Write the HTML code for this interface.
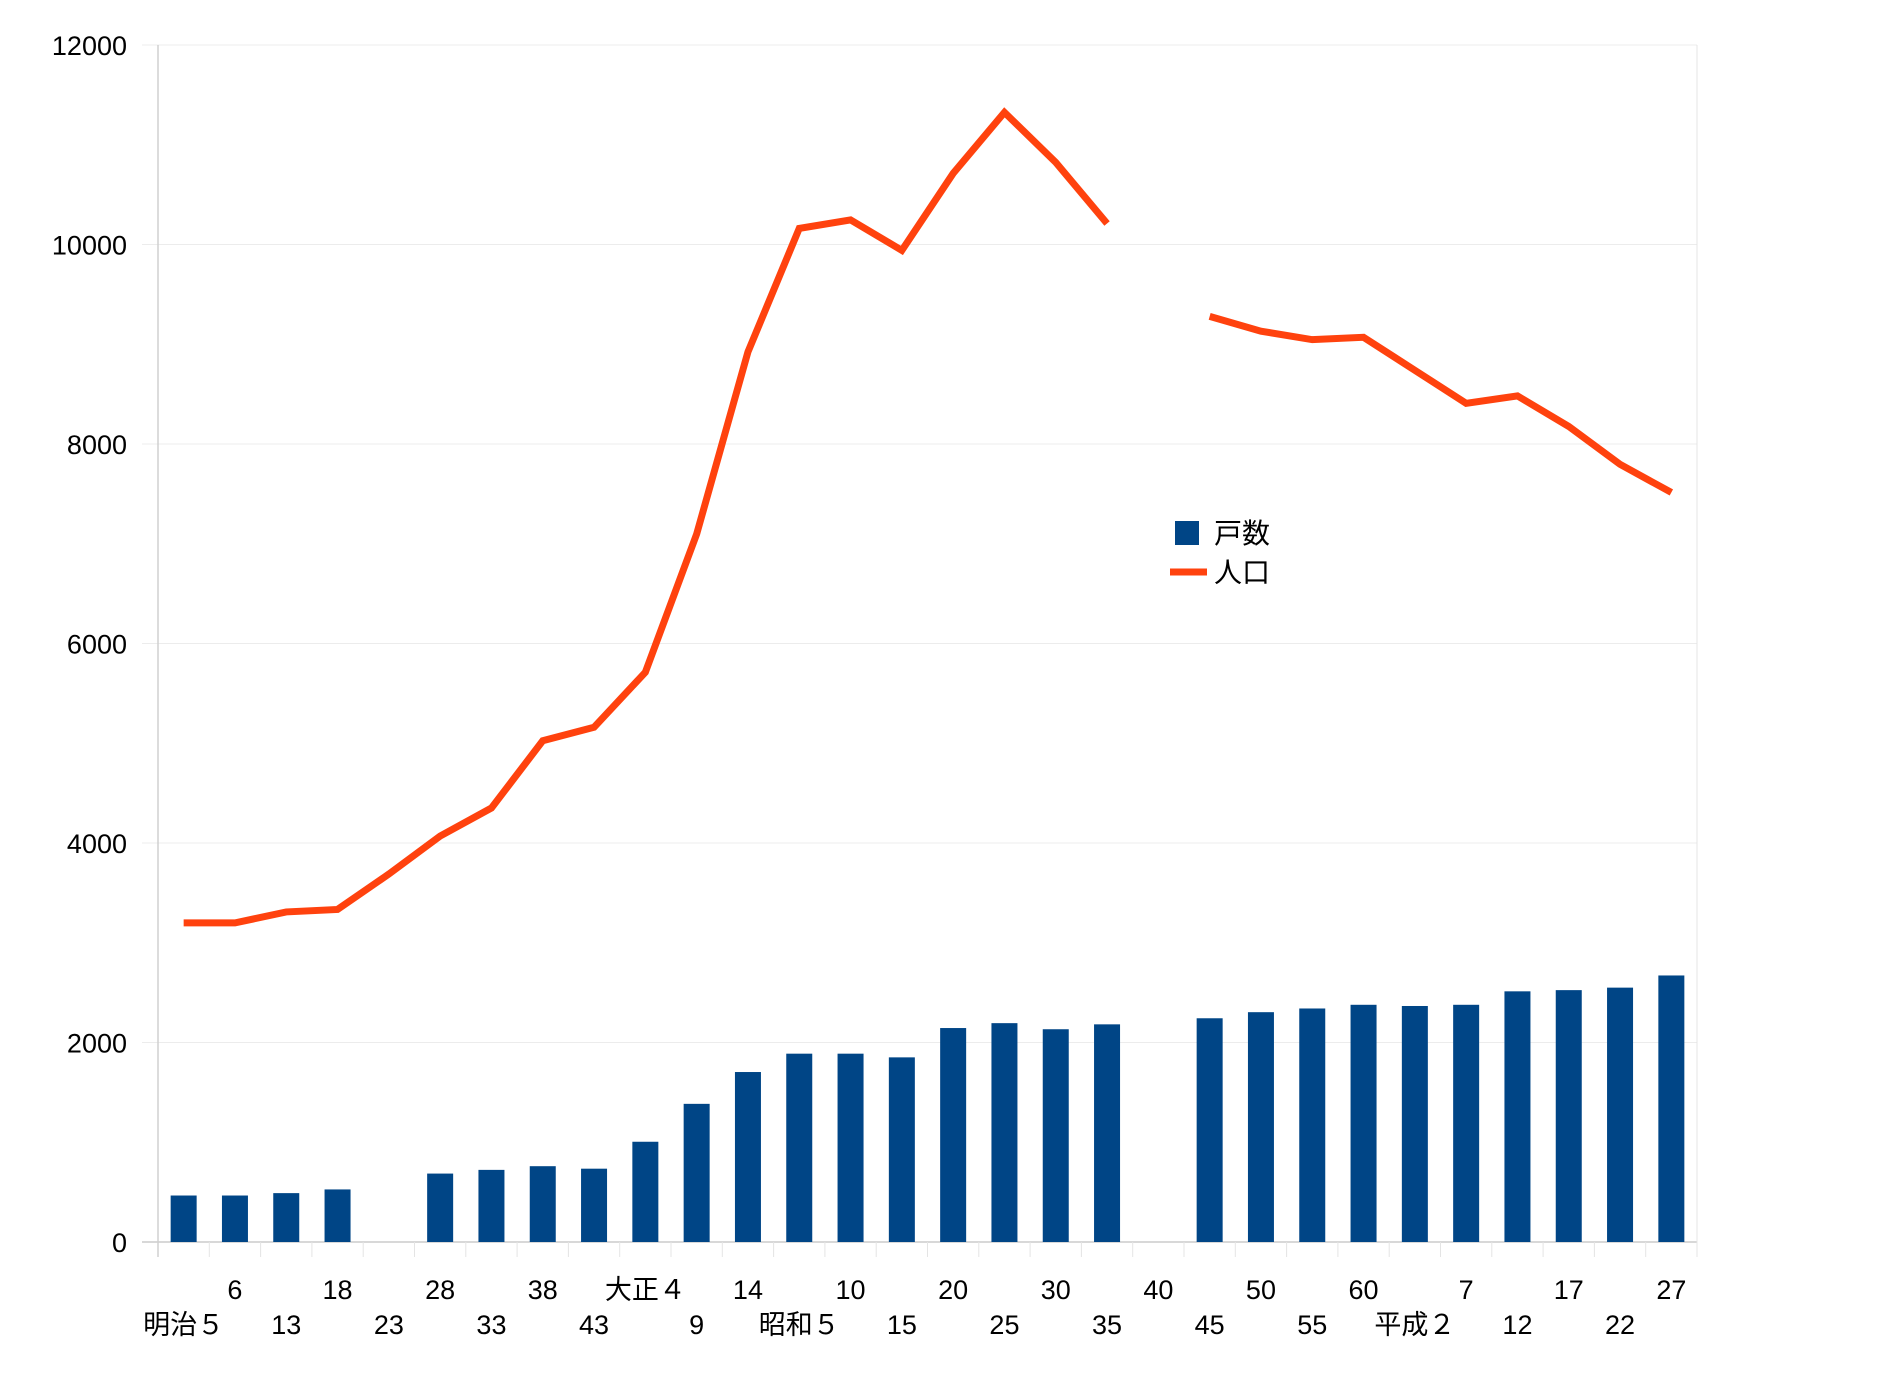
<!DOCTYPE html>
<html><head><meta charset="utf-8"><style>
html,body{margin:0;padding:0;background:#fff;}
svg{display:block;font-family:"Liberation Sans","Noto Sans CJK JP",sans-serif;}
</style></head><body>
<svg id="chart" width="1895" height="1383" viewBox="0 0 1895 1383"></svg>
<script>
const categoryLabels = ["明治５","6","13","18","23","28","33","38","43","大正４","9","14","昭和５","10","15","20","25","30","35","40","45","50","55","60","平成２","7","12","17","22","27"];
const households = [466,466,490,527,null,686,723,760,735,1005,1385,1704,1888,1888,1851,2145,2194,2133,2182,null,2243,2304,2341,2378,2366,2378,2513,2525,2550,2672];
const population = [3199,3199,3309,3334,3689,4069,4351,5025,5160,5712,7097,8923,10161,10247,9941,10713,11325,10823,10210,null,9279,9131,9046,9070,8739,8408,8482,8176,7796,7514];
const yTicks = [0,2000,4000,6000,8000,10000,12000];

const NS="http://www.w3.org/2000/svg";
const svg=document.getElementById('chart');
const L=158,R=1697,T=45,B=1242,YMAX=12000;
const n=categoryLabels.length, slot=(R-L)/n;
const xC=i=>L+slot*(i+0.5);
const yS=v=>B-(v/YMAX)*(B-T);
function mk(tag,attrs,parent){const e=document.createElementNS(NS,tag);for(const k in attrs)e.setAttribute(k,attrs[k]);(parent||svg).appendChild(e);return e;}

const grid=mk('g',{});


yTicks.forEach(t=>{
  const ln=mk('line',{x1:142,x2:R,y1:yS(t),y2:yS(t),stroke:t===0?'#d8d8d8':'#ececec','stroke-width':t===0?2:1},grid);
  
  
  const tx=mk('text',{x:127,y:yS(t)+10,'text-anchor':'end','font-size':27,fill:'#000'});
  tx.textContent=t;
  
  
});
const ax=mk('line',{x1:L,x2:L,y1:T,y2:B+15,stroke:'#d0d0d0','stroke-width':1.5});


const rb=mk('line',{x1:R,x2:R,y1:T,y2:B+15,stroke:'#e4e4e4','stroke-width':1});


for(let i=1;i<n;i++){
  const tk=mk('line',{x1:L+slot*i,x2:L+slot*i,y1:B,y2:B+15,stroke:'#e4e4e4','stroke-width':1});
  
  
}

households.forEach((v,i)=>{
  if(v==null)return;
  const r=mk('rect',{x:xC(i)-13,y:yS(v),width:26,height:B-yS(v),fill:'#004586'});
  
  
});

let segs=[],cur=[];
population.forEach((v,i)=>{if(v==null){if(cur.length)segs.push(cur);cur=[];}else cur.push(xC(i)+','+yS(v));});
if(cur.length)segs.push(cur);
segs.forEach(s=>{
  const p=mk('polyline',{points:s.join(' '),fill:'none',stroke:'#ff420e','stroke-width':7,'stroke-linejoin':'miter'});
  
  
});

categoryLabels.forEach((c,i)=>{
  const row=i%2===1?0:1;
  const t=mk('text',{x:xC(i),y:row===0?1299:1334,'text-anchor':'middle','font-size':27,fill:'#000'});
  t.textContent=c;
  
  
});

const lg=mk('g',{});


const ls=mk('rect',{x:1175,y:521,width:24,height:24,fill:'#004586'},lg);


const lt1=mk('text',{x:1214,y:543,'font-size':28,fill:'#000'},lg);
lt1.textContent='戸数';


const ll=mk('line',{x1:1170,x2:1207,y1:572,y2:572,stroke:'#ff420e','stroke-width':7},lg);


const lt2=mk('text',{x:1214,y:582,'font-size':28,fill:'#000'},lg);
lt2.textContent='人口';


</script>
</body></html>
